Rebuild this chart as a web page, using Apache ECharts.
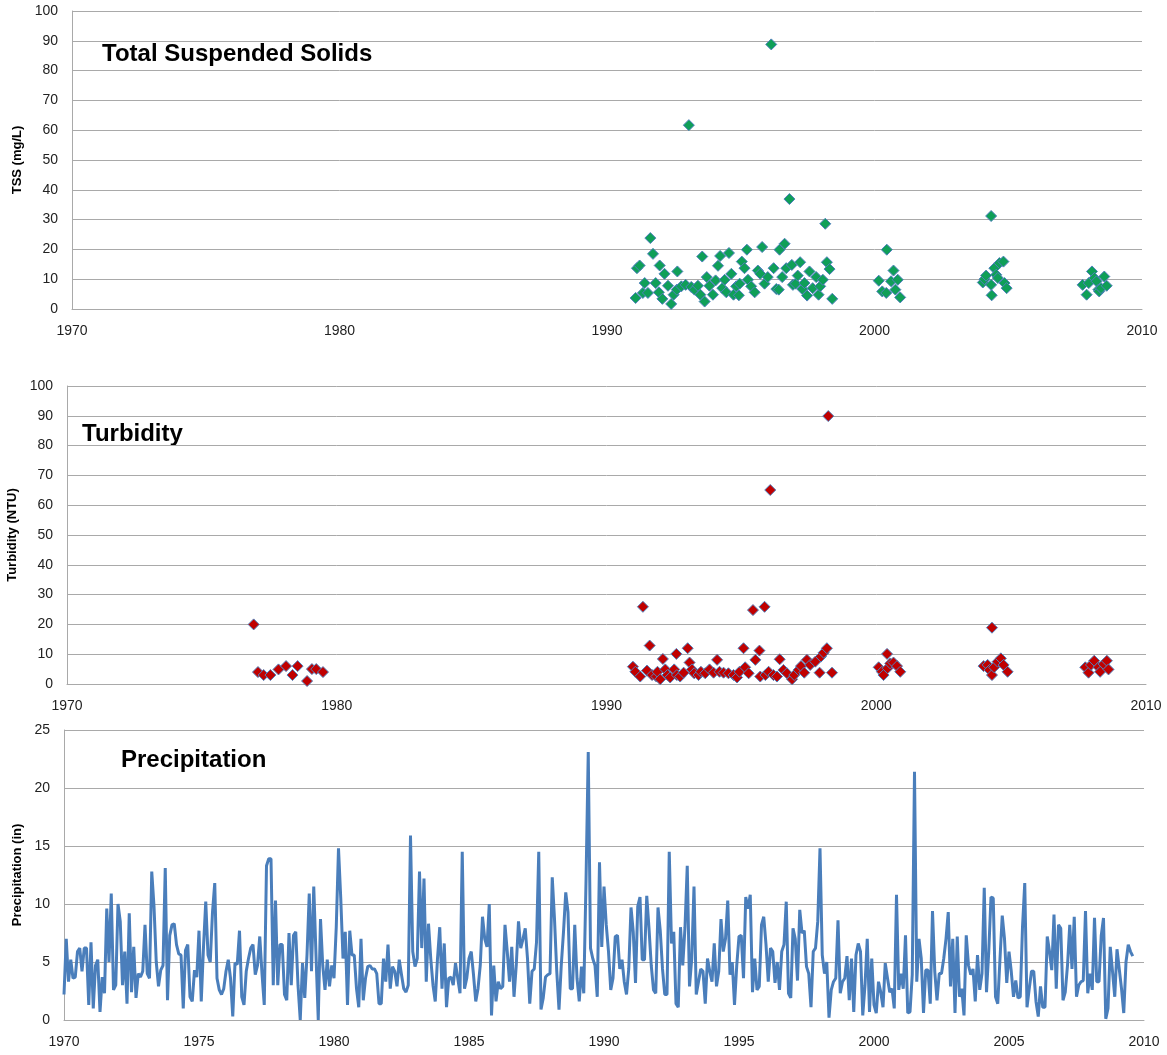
<!DOCTYPE html>
<html><head><meta charset="utf-8">
<script src="https://cdn.jsdelivr.net/npm/echarts@6/dist/echarts.min.js"></script>
<style>html,body{margin:0;padding:0;background:#fff}#c{width:1167px;height:1055px}</style>
</head><body><div id="c"></div>
<script>
// ---------- DATA ----------
const titles = ['Total Suspended Solids', 'Turbidity', 'Precipitation'];
const axisNames = ['TSS (mg/L)', 'Turbidity (NTU)', 'Precipitation (in)'];

const tssYears = [1991.07,1991.12,1991.22,1991.41,1991.34,1991.53,1991.62,1991.72,1991.82,1991.94,1991.97,1992.07,1992.15,1992.28,1992.40,1992.49,1992.63,1992.61,1992.78,1992.94,1993.06,1993.15,1993.27,1993.40,1993.49,1993.56,1993.65,1993.73,1993.83,1993.96,1994.06,1994.15,1994.23,1994.31,1994.46,1994.40,1994.56,1994.65,1994.73,1994.83,1994.93,1994.96,1995.04,1995.14,1995.23,1995.27,1995.39,1995.52,1995.64,1995.73,1995.80,1995.89,1996.01,1996.14,1996.23,1996.33,1996.42,1996.45,1996.55,1996.64,1996.70,1996.82,1996.91,1996.95,1997.05,1997.13,1997.22,1997.30,1997.38,1997.48,1997.57,1997.69,1997.82,1997.91,1997.97,1998.07,1998.16,1998.22,1998.32,1998.42,2000.16,2000.29,2000.46,2000.44,2000.62,2000.71,2000.78,2000.87,2000.96,2004.05,2004.11,2004.17,2004.36,2004.36,2004.38,2004.48,2004.55,2004.61,2004.67,2004.82,2004.86,2004.94,2007.78,2007.93,2008.01,2008.13,2008.22,2008.30,2008.37,2008.40,2008.47,2008.59,2008.68];
const tssValues = [3.7,13.7,14.6,8.7,5.4,5.4,23.8,18.5,8.7,5.6,14.6,3.4,11.8,7.8,1.7,4.8,12.6,6.5,7.6,8.1,61.7,7.4,6.5,7.8,4.8,17.6,2.5,10.7,7.8,4.8,9.6,14.5,17.8,7.0,5.6,9.8,18.8,11.8,4.8,7.6,4.6,8.5,15.9,13.7,19.9,9.8,7.6,5.6,12.9,11.8,20.8,8.5,10.7,88.8,13.7,6.7,6.5,19.9,10.7,21.9,13.7,36.9,14.8,8.1,8.5,11.2,15.7,6.7,8.7,4.5,12.6,7.0,10.7,4.8,7.6,9.8,28.6,15.7,13.4,3.4,9.5,5.9,19.9,5.4,9.3,12.9,6.5,9.8,3.9,8.9,10.0,11.2,31.2,8.1,4.6,13.7,11.5,10.4,15.4,15.9,8.7,7.0,8.1,4.8,8.7,12.6,10.4,9.3,6.5,5.9,7.0,10.9,7.8];

const turbYears = [1976.92,1977.08,1977.29,1977.54,1977.84,1978.12,1978.36,1978.55,1978.90,1979.08,1979.24,1979.49,1990.98,1991.07,1991.25,1991.35,1991.50,1991.60,1991.69,1991.85,1991.89,1991.99,1992.09,1992.18,1992.26,1992.36,1992.51,1992.59,1992.61,1992.73,1992.86,1993.01,1993.08,1993.17,1993.25,1993.41,1993.50,1993.66,1993.82,1993.97,1994.10,1994.19,1994.34,1994.52,1994.71,1994.84,1994.93,1995.08,1995.14,1995.27,1995.43,1995.52,1995.67,1995.70,1995.86,1995.89,1996.01,1996.07,1996.19,1996.32,1996.42,1996.56,1996.69,1996.88,1996.96,1997.12,1997.21,1997.33,1997.43,1997.55,1997.74,1997.90,1997.95,1998.05,1998.17,1998.22,1998.36,2000.09,2000.21,2000.27,2000.40,2000.42,2000.52,2000.64,2000.77,2000.89,2003.98,2004.13,2004.20,2004.29,2004.29,2004.37,2004.50,2004.62,2004.72,2004.87,2007.75,2007.87,2007.96,2008.08,2008.24,2008.30,2008.43,2008.55,2008.61];
const turbValues = [20.0,4.0,3.0,3.0,4.9,6.0,3.0,6.0,1.0,5.0,5.0,4.0,5.8,4.1,2.5,25.9,4.5,12.9,3.0,2.5,4.1,1.6,8.4,4.9,3.0,2.2,4.9,10.1,3.0,2.5,3.8,12.0,7.2,4.9,3.6,3.0,4.1,3.6,4.9,3.8,8.1,4.1,3.8,3.6,3.0,2.2,4.1,12.0,5.6,3.6,24.8,8.1,11.2,2.5,25.9,3.0,4.1,65.1,3.0,2.5,8.3,4.7,3.6,1.6,3.0,4.7,6.0,3.8,8.1,6.4,7.5,3.8,9.2,10.5,12.0,89.9,3.8,5.6,4.1,3.0,10.1,5.3,6.9,7.2,6.0,4.1,6.0,6.4,4.7,18.9,3.0,5.6,7.5,8.6,6.4,4.1,5.6,3.8,6.4,7.8,5.6,4.1,6.7,7.8,4.9];

// monthly precipitation, starting January 1970
const precipStartYear = 1970;
const precipMonthly = [
2.2,7.0,3.3,5.2,3.6,3.7,5.9,6.2,4.2,6.2,6.2,1.3,6.7,1.0,4.7,5.2,0.7,3.7,2.3,9.6,5.0,10.9,2.6,3.0,10.0,8.5,3.0,5.9,1.4,9.2,2.4,6.3,1.9,4.0,3.7,4.2,8.2,4.0,3.6,12.8,9.8,5.0,2.9,4.3,4.7,13.1,1.7,7.3,8.2,8.3,6.5,5.7,5.6,1.0,6.0,6.5,2.0,1.6,4.3,3.7,7.7,1.6,6.3,10.2,5.6,5.0,9.3,11.8,3.6,2.6,2.2,2.7,4.2,5.2,3.6,0.3,4.9,4.8,7.7,2.0,1.3,4.2,5.3,6.2,6.5,3.9,4.7,7.2,4.0,1.3,13.3,13.9,13.9,3.0,10.3,3.0,6.5,6.5,2.2,1.7,7.5,3.0,7.3,7.6,3.0,0,4.9,1.9,5.6,10.9,4.2,11.5,5.6,0,8.7,4.7,2.6,5.2,2.9,4.7,3.6,8.0,14.8,
10.5,5.3,7.6,1.3,7.7,5.6,5.6,2.7,1.1,7.0,1.7,3.6,4.6,4.7,4.4,4.4,4.0,1.4,1.4,5.3,3.3,6.5,2.7,4.6,4.2,2.9,5.2,3.9,2.7,2.4,3.0,15.9,5.9,4.6,5.3,12.8,6.2,12.2,3.3,8.3,5.3,3.0,1.6,5.3,8.0,2.7,6.6,1.1,3.6,3.7,3.0,4.9,3.6,2.3,14.5,2.7,3.6,5.3,5.9,3.9,1.6,2.7,4.7,8.9,7.0,6.3,10.0,0.4,4.7,1.6,3.3,2.7,2.9,8.2,5.9,3.3,6.3,2.0,4.7,8.5,6.2,7.0,7.9,5.3,1.4,4.2,4.4,6.7,14.5,0.9,1.9,3.7,3.9,4.0,12.3,8.7,4.2,0.9,4.7,7.6,11.0,9.3,2.7,2.7,8.2,3.6,1.6,4.6,2.3,11.9,23.1,6.2,5.3,4.7,2.0,13.6,6.3,11.5,8.2,5.9,2.6,3.6,7.2,
7.3,4.4,5.2,3.3,2.2,4.4,9.7,7.6,3.2,9.8,10.6,5.2,5.2,10.7,7.9,4.7,2.6,2.3,9.7,7.7,4.4,2.2,2.2,14.5,6.6,7.6,1.4,1.1,8.0,4.7,8.0,13.3,2.9,5.3,11.5,2.2,3.3,4.4,4.2,1.4,5.3,4.2,3.3,6.6,2.9,4.2,8.7,5.9,7.0,10.3,3.9,5.0,1.3,4.7,7.2,7.3,3.6,10.6,9.6,10.8,2.4,5.3,2.6,2.9,8.2,8.9,6.5,3.3,6.2,5.9,3.2,5.0,2.6,5.9,6.5,10.2,2.3,1.9,7.9,7.0,3.4,9.5,7.5,7.7,4.6,4.0,1.1,5.9,6.2,8.5,14.8,5.6,4.0,5.0,0.2,2.6,3.3,3.6,8.6,2.3,3.3,3.6,5.5,1.7,5.3,0.7,5.6,6.6,5.9,0.4,3.0,7.0,0.7,5.3,1.3,0.6,3.3,2.4,1.1,4.9,
3.6,2.4,2.7,1.0,10.8,2.6,4.0,2.7,7.3,0.6,0.7,3.9,21.4,3.3,7.0,5.3,0.6,4.3,4.3,1.4,9.4,4.2,1.7,4.0,4.0,5.3,7.0,9.3,2.9,7.0,0.6,7.2,2.0,2.7,0.4,7.3,4.7,3.9,4.4,1.6,5.6,2.6,4.0,11.4,2.4,5.9,10.6,10.5,2.0,1.4,5.3,9.0,7.0,3.2,5.9,4.2,2.0,3.4,1.9,2.0,8.0,11.8,1.1,2.7,4.2,4.2,1.6,0.3,2.9,1.1,1.1,7.2,5.9,4.3,9.1,2.7,8.2,7.9,1.7,2.4,4.7,8.2,4.4,8.9,2.0,3.0,3.3,3.4,9.4,2.3,4.0,2.6,8.8,3.3,3.3,7.3,8.8,0.1,1.0,6.3,4.2,2.0,6.1,4.4,2.7,0.6,5.0,6.5,5.9,5.5
];

// ---------- CHART ----------
const FONT = 'Liberation Sans';
const GRID = '#a9a9a9';
const LABEL = '#222';

const tssData = tssYears.map((y, i) => [y, tssValues[i]]);
const turbData = turbYears.map((y, i) => [y, turbValues[i]]);
const precipData = precipMonthly.map((v, i) => [precipStartYear + i / 12, v]);

function xAx(gi, interval) {
  return {
    type: 'value', gridIndex: gi, min: 1970, max: 2010, interval: interval,
    axisLine: { show: true, lineStyle: { color: GRID, width: 1 } },
    axisTick: { show: false },
    splitLine: { show: false },
    axisLabel: { color: LABEL, fontSize: 14, fontFamily: FONT, margin: 15, formatter: v => String(v) }
  };
}
function yAx(gi, name, max, interval, gap) {
  return {
    type: 'value', gridIndex: gi, min: 0, max: max, interval: interval,
    name: name, nameLocation: 'middle', nameGap: gap,
    nameTextStyle: { fontFamily: FONT, fontSize: 13, fontWeight: 'bold', color: '#000' },
    axisLine: { show: true, lineStyle: { color: GRID, width: 1 } },
    axisTick: { show: false },
    splitLine: { show: true, lineStyle: { color: GRID, width: 1 } },
    axisLabel: { color: LABEL, fontSize: 14, fontFamily: FONT, margin: 14, formatter: v => String(v) }
  };
}
function title(text, x, y) {
  return { type: 'text', x: x, y: y, silent: true,
    style: { text: text, fill: '#000', fontSize: 24, fontWeight: 'bold', fontFamily: FONT,
             align: 'left', verticalAlign: 'middle' } };
}

const chart = echarts.init(document.getElementById('c'), null, { renderer: 'canvas' });
chart.setOption({
  animation: false,
  backgroundColor: '#fff',
  textStyle: { fontFamily: FONT },
  grid: [
    { left: 72, top: 11, width: 1070, height: 298, outerBoundsMode: 'none' },
    { left: 67, top: 386, width: 1079, height: 298, outerBoundsMode: 'none' },
    { left: 64, top: 730, width: 1080, height: 290, outerBoundsMode: 'none' }
  ],
  xAxis: [xAx(0, 10), xAx(1, 10), xAx(2, 5)],
  yAxis: [yAx(0, axisNames[0], 100, 10, 46), yAx(1, axisNames[1], 100, 10, 46), yAx(2, axisNames[2], 25, 5, 37)],
  series: [
    { type: 'scatter', xAxisIndex: 0, yAxisIndex: 0, data: tssData, symbol: 'diamond', symbolSize: 11,
      itemStyle: { color: '#0f9f58', borderColor: '#4f81bd', borderWidth: 1, opacity: 1 } },
    { type: 'scatter', xAxisIndex: 1, yAxisIndex: 1, data: turbData, symbol: 'diamond', symbolSize: 11,
      itemStyle: { color: '#c00000', borderColor: '#4f81bd', borderWidth: 1, opacity: 1 } },
    { type: 'line', xAxisIndex: 2, yAxisIndex: 2, data: precipData, showSymbol: false, symbol: 'none',
      lineStyle: { color: '#4a7ebb', width: 3 }, itemStyle: { color: '#4a7ebb' } }
  ],
  graphic: [
    title(titles[0], 102, 54),
    title(titles[1], 82, 434),
    title(titles[2], 121, 760)
  ]
});
</script>
</body></html>
